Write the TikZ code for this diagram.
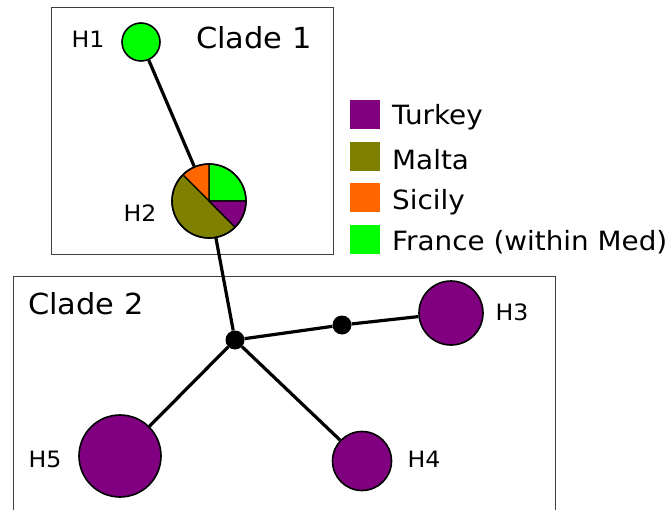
\documentclass[tikz,border=0pt]{standalone}
\usepackage{fontspec}
\setmainfont[FakeStretch=1.05]{DejaVu Sans}
\definecolor{turkey}{HTML}{800080}
\definecolor{malta}{HTML}{808000}
\definecolor{sicily}{HTML}{FF6600}
\definecolor{france}{HTML}{00FF00}
\definecolor{boxgray}{HTML}{404040}
\tikzset{
  boxline/.style={draw=boxgray, line width=1pt},
  hap/.style={circle, draw=black, line width=1.6pt, inner sep=0pt, fill=turkey},
  median/.style={circle, fill=black, inner sep=0pt, minimum size=19pt},
  edge/.style={draw=black, line width=3.2pt},
  slice/.style={draw=black, line width=1.3pt, line join=round},
  hlabel/.style={anchor=base, inner sep=0pt, font=\fontsize{22.5}{26}\selectfont},
  cladelabel/.style={anchor=base west, inner sep=0pt, font=\fontsize{29}{33}\selectfont},
  swatch/.style={rectangle, inner sep=0pt, minimum width=30pt, minimum height=29pt},
  legtext/.style={anchor=base west, inner sep=0pt, font=\fontsize{26.5}{30}\selectfont}
}
\begin{document}
\begin{tikzpicture}[x=1pt, y=-1pt]
\useasboundingbox (0,0) rectangle (668,510);

% clade frames (the lower one runs off the bottom edge)
\draw[boxline] (51,8) rectangle (333,255);
\draw[boxline] (13,512) -- (13,276) -- (555,276) -- (555,512);

% haplotypes and median vectors
\node[hap, fill=france, minimum size=38pt] (h1) at (141,42) {};
\node[circle, inner sep=0pt, minimum size=74pt] (h2) at (209,201) {};
\node[median] (j) at (235,340) {};
\node[median] (m) at (342,325) {};
\node[hap, minimum size=64pt] (h3) at (451,313) {};
\node[hap, minimum size=59pt] (h4) at (362,461) {};
\node[hap, minimum size=82pt] (h5) at (120,456) {};

% network edges
\draw[edge] (h1) -- (h2);
\draw[edge] (h2) -- (j);
\draw[edge] (j) -- (m);
\draw[edge] (m) -- (h3);
\draw[edge] (j) -- (h4);
\draw[edge] (j) -- (h5);

% H2 pie chart by region
\begin{scope}[shift={(h2.center)}, x=1pt, y=1pt]
  \filldraw[slice, fill=france] (0,0) -- (90:37) arc[start angle=90, end angle=0, radius=37] -- cycle;
  \filldraw[slice, fill=sicily] (0,0) -- (135:37) arc[start angle=135, end angle=90, radius=37] -- cycle;
  \filldraw[slice, fill=malta] (0,0) -- (315:37) arc[start angle=315, end angle=135, radius=37] -- cycle;
  \filldraw[slice, fill=turkey] (0,0) -- (360:37) arc[start angle=360, end angle=315, radius=37] -- cycle;
  \draw[line width=1.6pt] (0,0) circle[radius=37];
\end{scope}

% haplotype labels
\node[hlabel] (l1) at (88,47.7) {H1};
\node[hlabel] (l2) at (140,221.7) {H2};
\node[hlabel] (l3) at (512,320) {H3};
\node[hlabel] (l4) at (424,467.7) {H4};
\node[hlabel] (l5) at (45,467.3) {H5};

% clade titles
\node[cladelabel] (c1) at (196,48.3) {Clade 1};
\node[cladelabel] (c2) at (28,314.3) {Clade 2};

% legend
\node[swatch, fill=turkey] (k1) at (364.5,115) {};
\node[swatch, fill=malta]  (k2) at (364.5,156.7) {};
\node[swatch, fill=sicily] (k3) at (364.5,198) {};
\node[swatch, fill=france] (k4) at (364.5,239.7) {};
\node[legtext] (t1) at (392,125) {Turkey};
\node[legtext] (t2) at (392,170) {Malta};
\node[legtext] (t3) at (392,209.3) {Sicily};
\node[legtext] (t4) at (392,251) {France (within Med)};
\end{tikzpicture}
\end{document}
